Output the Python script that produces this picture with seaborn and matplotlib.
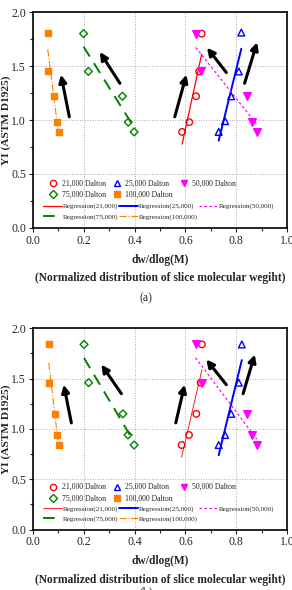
import numpy as np
import matplotlib
matplotlib.use('Agg')
import matplotlib.pyplot as plt
import seaborn as sns
from matplotlib.lines import Line2D

sns.set_theme(style='ticks')
plt.rcParams['font.family'] = ['Liberation Serif', 'DejaVu Serif']

# series names
series = ['21,000', '25,000', '50,000', '75,000', '100,000']

# panel (a) data
x_a = {
    '21,000': [0.587, 0.615, 0.642, 0.654, 0.664],
    '25,000': [0.731, 0.756, 0.780, 0.810, 0.820],
    '50,000': [0.641, 0.661, 0.841, 0.861, 0.881],
    '75,000': [0.199, 0.218, 0.352, 0.375, 0.398],
    '100,000': [0.058, 0.060, 0.083, 0.093, 0.101],
}
y_a = {
    '21,000': [0.89, 0.98, 1.22, 1.45, 1.80],
    '25,000': [0.89, 0.99, 1.22, 1.45, 1.81],
    '50,000': [1.80, 1.45, 1.22, 0.98, 0.89],
    '75,000': [1.80, 1.45, 1.22, 0.98, 0.89],
    '100,000': [1.81, 1.45, 1.22, 0.98, 0.89],
}

# panel (b) data
x_b = {
    '21,000': [0.585, 0.614, 0.643, 0.660, 0.665],
    '25,000': [0.731, 0.756, 0.780, 0.810, 0.822],
    '50,000': [0.640, 0.664, 0.841, 0.861, 0.881],
    '75,000': [0.201, 0.219, 0.354, 0.374, 0.398],
    '100,000': [0.062, 0.063, 0.085, 0.094, 0.102],
}
y_b = {
    '21,000': [0.84, 0.94, 1.15, 1.46, 1.84],
    '25,000': [0.84, 0.94, 1.15, 1.46, 1.84],
    '50,000': [1.84, 1.46, 1.15, 0.94, 0.84],
    '75,000': [1.84, 1.46, 1.15, 0.94, 0.84],
    '100,000': [1.84, 1.46, 1.15, 0.94, 0.84],
}

# annotation arrows (tail -> head) in data coords
arrows_a = [((0.143, 1.03), (0.110, 1.42)), ((0.342, 1.34), (0.263, 1.63)),
            ((0.558, 1.03), (0.604, 1.42)), ((0.761, 1.44), (0.685, 1.67)),
            ((0.833, 1.34), (0.882, 1.72))]
arrows_b = [((0.151, 1.06), (0.121, 1.44)), ((0.348, 1.35), (0.269, 1.64)),
            ((0.562, 1.06), (0.597, 1.44)), ((0.761, 1.44), (0.682, 1.69)),
            ((0.827, 1.35), (0.873, 1.74))]

colors = {'21,000': '#FF0000', '25,000': '#0000FF', '50,000': '#FF00FF',
          '75,000': '#008000', '100,000': '#FF8000'}
markers = {'21,000': 'o', '25,000': '^', '50,000': 'v', '75,000': 'D', '100,000': 's'}
filled = {'21,000': False, '25,000': False, '50,000': True, '75,000': False, '100,000': True}
msize = {'21,000': 22, '25,000': 24, '50,000': 30, '75,000': 16, '100,000': 18}
line_style = {
    '21,000': dict(ls='-', lw=0.9),
    '25,000': dict(ls='-', lw=1.4),
    '50,000': dict(ls=(0, (2, 2)), lw=0.9),
    '75,000': dict(ls=(0, (6, 4)), lw=1.4),
    '100,000': dict(ls='-.', lw=0.8),
}


def draw_panel(ax, xs, ys, arrows, red_lw=None):
    for s in series:
        c = colors[s]
        ls = dict(line_style[s])
        if s == '21,000' and red_lw is not None:
            ls['lw'] = red_lw
        sns.regplot(x=np.array(xs[s]), y=np.array(ys[s]), ax=ax, ci=None,
                    scatter=False, truncate=True,
                    line_kws=dict(color=c, linestyle=ls['ls'], linewidth=ls['lw']))
        sns.scatterplot(x=xs[s], y=ys[s], ax=ax, marker=markers[s], s=msize[s],
                        facecolor=c if filled[s] else 'none', edgecolor=c,
                        linewidth=1.0, zorder=3)
    for tail, head in arrows:
        ax.annotate('', xy=head, xytext=tail,
                    arrowprops=dict(arrowstyle='-|>', color='black', lw=2.2,
                                    mutation_scale=11, shrinkA=0, shrinkB=0))

    ax.set_xlim(0, 1.0)
    ax.set_ylim(0, 2.0)
    ax.set_xticks(np.arange(0, 1.01, 0.2))
    ax.set_xticks(np.arange(0.1, 1.0, 0.2), minor=True)
    ax.set_yticks(np.arange(0, 2.01, 0.5))
    ax.set_yticks(np.arange(0.25, 2.0, 0.5), minor=True)
    ax.xaxis.set_major_formatter(matplotlib.ticker.FormatStrFormatter('%.1f'))
    ax.yaxis.set_major_formatter(matplotlib.ticker.FormatStrFormatter('%.1f'))
    ax.tick_params(which='major', direction='out', length=3, width=0.8, labelsize=8.5, pad=2)
    ax.tick_params(which='minor', direction='out', length=2, width=0.8)
    ax.grid(True, which='major', color='#aaaaaa', linestyle=':', linewidth=0.7)
    for sp in ax.spines.values():
        sp.set_visible(True)
        sp.set_linewidth(1.2)
        sp.set_color('black')
    ax.set_xlabel('dw/dlog(M)\n(Normalized distribution of slice molecular wegiht)',
                  fontsize=8.3, fontweight='bold', linespacing=1.7, labelpad=5)
    ax.set_ylabel('YI (ASTM D1925)', fontsize=8.2, fontweight='bold')
    ax.yaxis.set_label_coords(-0.088, 0.5)

    # marker legend
    mh = []
    for s in series:
        c = colors[s]
        mh.append(Line2D([], [], ls='none', marker=markers[s], markersize=4.5,
                         markerfacecolor=c if filled[s] else 'none',
                         markeredgecolor=c, markeredgewidth=1.0,
                         label=f'{s} Dalton'))
    blank = Line2D([], [], ls='none', label='')
    # ncol=3 fills column-wise, so reorder for row-wise reading
    hm = [mh[0], mh[3], mh[1], mh[4], mh[2], blank]
    leg1 = ax.legend(handles=hm, labels=[h.get_label() for h in hm], ncol=3,
                     loc='lower left', bbox_to_anchor=(0.065, 0.135),
                     frameon=False, fontsize=5.6, handlelength=1.0,
                     handletextpad=0.6, columnspacing=0.9, labelspacing=0.4,
                     borderpad=0, borderaxespad=0)
    ax.add_artist(leg1)

    lh = []
    for s in series:
        ls = dict(line_style[s])
        if s == '21,000' and red_lw is not None:
            ls['lw'] = red_lw
        lh.append(Line2D([], [], color=colors[s], linestyle=ls['ls'],
                         linewidth=ls['lw'], label=f'Regression({s})'))
    hl = [lh[0], lh[3], lh[1], lh[4], lh[2], blank]
    ax.legend(handles=hl, labels=[h.get_label() for h in hl], ncol=3,
              loc='lower left', bbox_to_anchor=(0.04, 0.037),
              frameon=False, fontsize=5.1, handlelength=2.6,
              handletextpad=0.15, columnspacing=0.15, labelspacing=0.6,
              borderpad=0, borderaxespad=0)


fig = plt.figure(figsize=(2.92, 5.90), dpi=100)
ax1 = fig.add_axes([0.113, 0.6136, 0.870, 0.366])
ax2 = fig.add_axes([0.113, 0.1025, 0.870, 0.341])

draw_panel(ax1, x_a, y_a, arrows_a)
draw_panel(ax2, x_b, y_b, arrows_b, red_lw=0.6)

fig.text(0.5, 1 - 298 / 590, '(a)', ha='center', va='center', fontsize=8.5)
fig.text(0.5, 1 - 592 / 590, '(b)', ha='center', va='center', fontsize=8.5)

fig.savefig('out.png', dpi=100)
